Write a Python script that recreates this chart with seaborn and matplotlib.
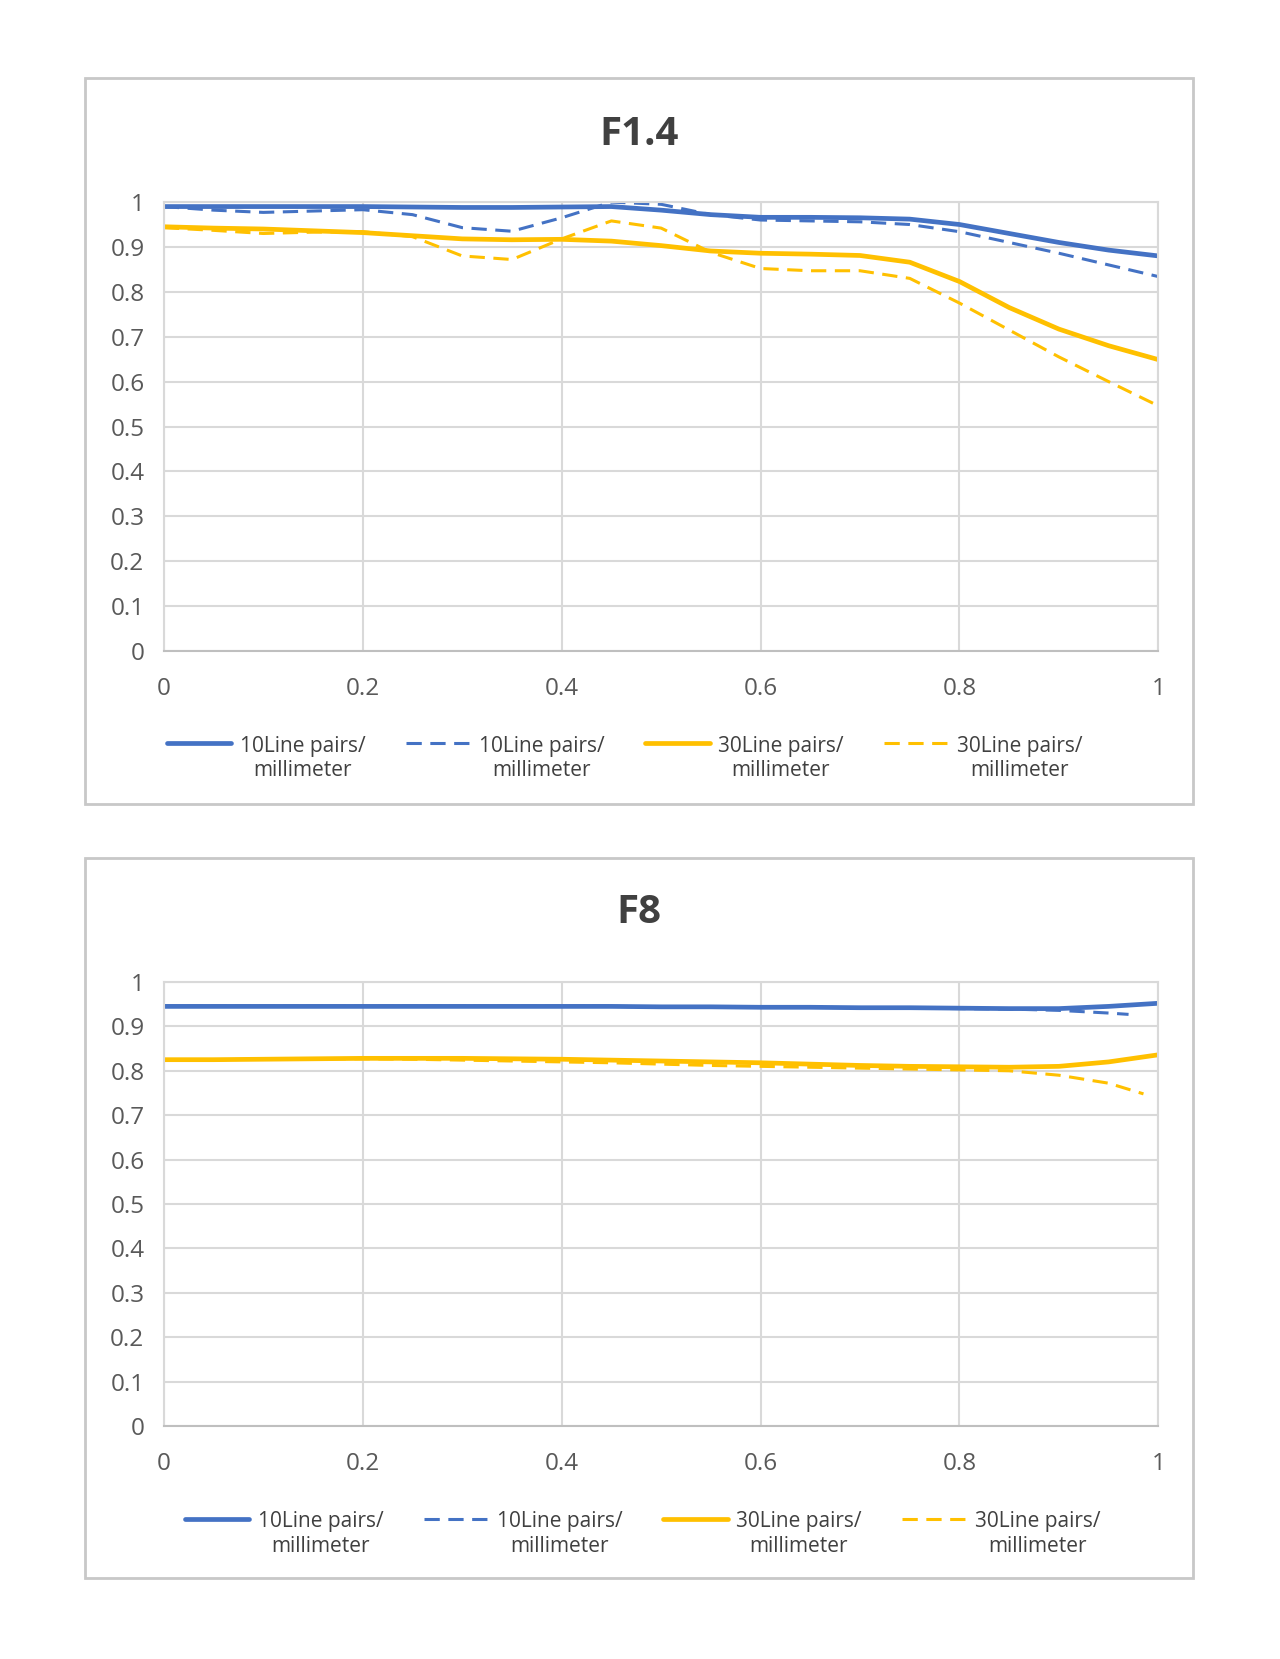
import numpy as np
import pandas as pd
import matplotlib
matplotlib.use("Agg")
import matplotlib.pyplot as plt
from matplotlib.patches import Rectangle
import seaborn as sns

# --- MTF values (field position 0..1) ---
x_pos = [0, 0.05, 0.1, 0.15, 0.2, 0.25, 0.3, 0.35, 0.4, 0.45, 0.5,
         0.55, 0.6, 0.65, 0.7, 0.75, 0.8, 0.85, 0.9, 0.95, 1.0]

f14_10_sag = [0.99, 0.99, 0.99, 0.99, 0.99, 0.989, 0.988, 0.988, 0.989, 0.99, 0.982,
              0.972, 0.966, 0.966, 0.965, 0.962, 0.95, 0.93, 0.91, 0.893, 0.88]
f14_10_tan = [0.99, 0.982, 0.977, 0.98, 0.983, 0.972, 0.943, 0.935, 0.965, 1.0, 0.995,
              0.972, 0.96, 0.958, 0.956, 0.95, 0.934, 0.91, 0.886, 0.86, 0.834]
f14_30_sag = [0.945, 0.942, 0.94, 0.936, 0.932, 0.925, 0.918, 0.916, 0.917, 0.913, 0.903,
              0.891, 0.886, 0.884, 0.881, 0.866, 0.823, 0.765, 0.717, 0.68, 0.649]
f14_30_tan = [0.943, 0.937, 0.93, 0.933, 0.934, 0.923, 0.88, 0.872, 0.918, 0.958, 0.942,
              0.888, 0.852, 0.847, 0.847, 0.83, 0.775, 0.715, 0.655, 0.6, 0.546]

f8_10_sag = [0.945, 0.945, 0.945, 0.945, 0.945, 0.945, 0.945, 0.945, 0.945, 0.945, 0.944,
             0.944, 0.943, 0.943, 0.942, 0.942, 0.941, 0.94, 0.94, 0.945, 0.952]
f8_10_tan_x = x_pos[:20] + [0.97]
f8_10_tan = [0.945, 0.945, 0.945, 0.945, 0.945, 0.945, 0.945, 0.945, 0.945, 0.945, 0.944,
             0.944, 0.943, 0.943, 0.942, 0.941, 0.94, 0.939, 0.936, 0.93, 0.927]
f8_30_sag = [0.825, 0.825, 0.826, 0.827, 0.828, 0.828, 0.828, 0.827, 0.826, 0.824, 0.822,
             0.82, 0.818, 0.815, 0.812, 0.81, 0.809, 0.808, 0.81, 0.82, 0.836]
f8_30_tan_x = x_pos[:20] + [0.985]
f8_30_tan = [0.825, 0.825, 0.826, 0.827, 0.827, 0.826, 0.824, 0.822, 0.82, 0.818, 0.815,
             0.812, 0.81, 0.808, 0.806, 0.804, 0.802, 0.8, 0.79, 0.772, 0.748]

label = "10Line pairs/\nmillimeter"
label30 = "30Line pairs/\nmillimeter"

BLUE = "#4472C4"
GOLD = "#FFC000"
GRID = "#D9D9D9"
TXT = "#595959"
DASH = (5, 2.8)

sns.set_theme(style="white")
plt.rcParams["font.family"] = ["Open Sans", "DejaVu Sans"]

fig = plt.figure(figsize=(12.8, 16.59), dpi=100)

panels = [
    dict(title="F1.4", box=(0.0664, 0.5154, 0.8656, 0.4376), ax=(0.128, 0.6076, 0.777, 0.2706),
         ty=0.919, ly=0.543, lx=0.488,
         series=[(x_pos, f14_10_sag, BLUE, "-", label),
                 (x_pos, f14_10_tan, BLUE, "--", label),
                 (x_pos, f14_30_sag, GOLD, "-", label30),
                 (x_pos, f14_30_tan, GOLD, "--", label30)]),
    dict(title="F8", box=(0.0664, 0.0488, 0.8656, 0.434), ax=(0.128, 0.1404, 0.777, 0.2677),
         ty=0.4497, ly=0.0753, lx=0.502,
         series=[(x_pos, f8_10_sag, BLUE, "-", label),
                 (f8_10_tan_x, f8_10_tan, BLUE, "--", label),
                 (x_pos, f8_30_sag, GOLD, "-", label30),
                 (f8_30_tan_x, f8_30_tan, GOLD, "--", label30)]),
]

for p in panels:
    bx, by, bw, bh = p["box"]
    fig.patches.append(Rectangle((bx, by), bw, bh, transform=fig.transFigure,
                                 facecolor="none", edgecolor="#C8C8C8", lw=2, zorder=-1))
    ax = fig.add_axes(p["ax"])
    for xs, ys, col, ls, lab in p["series"]:
        df = pd.DataFrame({"x": xs, "y": ys})
        if ls == "-":
            sns.lineplot(data=df, x="x", y="y", ax=ax, color=col, lw=3.4, label=lab)
        else:
            sns.lineplot(data=df, x="x", y="y", ax=ax, color=col, lw=2.2, label=lab)
            ax.lines[-1].set_dashes(DASH)
    ax.set_xlim(0, 1)
    ax.set_ylim(0, 1)
    ax.set_xticks(np.arange(0, 1.01, 0.2))
    ax.set_yticks(np.arange(0, 1.01, 0.1))
    ax.set_xticklabels(["0", "0.2", "0.4", "0.6", "0.8", "1"])
    ax.set_yticklabels(["0"] + [f"{v:.1f}" for v in np.arange(0.1, 0.95, 0.1)] + ["1"])
    ax.grid(True, color=GRID, lw=1.5)
    ax.set_axisbelow(True)
    for s in ax.spines.values():
        s.set_color(GRID)
        s.set_linewidth(1.5)
    ax.spines["bottom"].set_color("#BFBFBF")
    ax.tick_params(axis="y", length=0, pad=14, labelsize=17.5, labelcolor=TXT)
    ax.tick_params(axis="x", length=0, pad=19, labelsize=17.5, labelcolor=TXT)
    ax.set_xlabel("")
    ax.set_ylabel("")
    fig.text(0.499, p["ty"], p["title"], ha="center", va="center",
             fontsize=29, fontweight="bold", color="#404040")
    leg = ax.legend(loc="center", bbox_to_anchor=(p["lx"], p["ly"]),
                    bbox_transform=fig.transFigure, ncol=4, frameon=False,
                    fontsize=15, handlelength=3.1, handletextpad=0.4,
                    columnspacing=1.95, labelcolor="#404040")
    for t in leg.get_texts():
        t.set_multialignment("center")
    for h in leg.get_lines():
        if h.get_linestyle() != "-":
            h.set_dashes(DASH)
    # put the legend key level with the first text line
    for col in leg._legend_handle_box.get_children():
        for item in col.get_children():
            item.align = "top"

fig.savefig("out.png", dpi=100, facecolor="white")
